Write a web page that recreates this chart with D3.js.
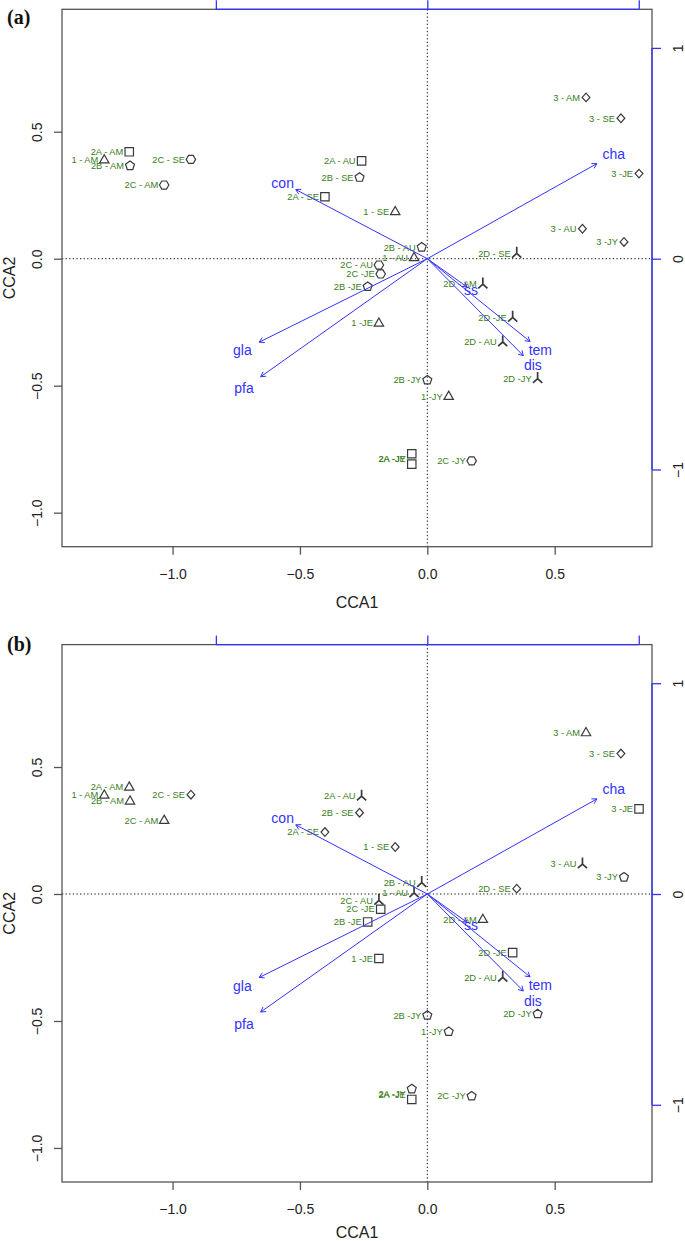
<!DOCTYPE html>
<html><head><meta charset="utf-8">
<script src="https://cdn.jsdelivr.net/npm/d3@7"></script>
<style>body{margin:0;background:#fff}</style>
</head><body>
<svg id="chart" width="685" height="1241"></svg>
<script>
// ---------- data ----------
const sites = ["2A - AM","1 - AM","2B - AM","2C - SE","2C - AM","2A - SE","2A - AU","2B - SE","1 - SE","2B - AU",
  "1 - AU","2C - AU","2C -JE","2B -JE","3 - AM","3 - SE","3 -JE","3 - AU","3 -JY","2D - SE",
  "2D - AM","1 -JE","2D -JE","2D - AU","2D -JY","2B -JY","1 -JY","2A -JY","2A -JE","2C -JY"];
const siteCCA1 = [-1.170,-1.268,-1.167,-0.928,-1.033,-0.402,-0.258,-0.266,-0.126,-0.022,
  -0.052,-0.190,-0.183,-0.234,0.623,0.760,0.831,0.609,0.772,0.351,
  0.218,-0.190,0.335,0.296,0.433,0.000,0.084,-0.061,-0.061,0.174];
const siteCCA2 = [0.421,0.389,0.366,0.391,0.290,0.244,0.385,0.320,0.185,0.045,
  0.004,-0.025,-0.060,-0.110,0.635,0.553,0.335,0.118,0.066,0.021,
  -0.100,-0.254,-0.231,-0.328,-0.472,-0.478,-0.542,-0.768,-0.809,-0.796];
const siteGroup = ["2A","1","2B","2C","2C","2A","2A","2B","1","2B",
  "1","2C","2C","2B","3","3","3","3","3","2D",
  "2D","1","2D","2D","2D","2B","1","2A","2A","2C"];
const siteSeason = ["AM","AM","AM","SE","AM","SE","AU","SE","SE","AU",
  "AU","AU","JE","JE","AM","SE","JE","AU","JY","SE",
  "AM","JE","JE","AU","JY","JY","JY","JY","JE","JY"];
const envVars = ["con","cha","gla","pfa","ss","tem","dis"];
const envCCA1 = [-0.622,0.802,-0.795,-0.788,0.188,0.486,0.454];
const envCCA2 = [0.328,0.451,-0.396,-0.560,-0.134,-0.393,-0.460];
const xTicks = [-1.0,-0.5,0.0,0.5];
const yTicks = [-1.0,-0.5,0.0,0.5];
const arrowTicks = [-1,0,1];
const panelLabels = ["(a)","(b)"];
const groupShape = {"1":"triangle","2A":"square","2B":"pentagon","2C":"hexagon","2D":"tripod","3":"diamond"};
const seasonShape = {"AM":"triangle","SE":"diamond","AU":"tripod","JE":"square","JY":"pentagon"};

// ---------- layout ----------
const svg = d3.select("#chart");
const L = 62, R = 652, T0 = 9.3, B0 = 546.7, panelOffset = 635.3;
const panelLabelDy = [14.7, 6.5];
const xTitleDy = [61, 55.5];
const arrowMul = 0.83;
const labelColor = "#3a7d22", blue = "#3333ff", frame = "#555";
const labelNudge = {"2A -JY": 5, "2A -JE": -5};
const font = "Liberation Sans, Arial, sans-serif";

function shapePath(type) {
  const poly = pts => "M" + pts.map(p => p.join(",")).join("L") + "Z";
  const reg = (n, r, a0) => d3.range(n).map(k => {
    const a = a0 + k * 2 * Math.PI / n; return [r * Math.cos(a), r * Math.sin(a)];
  });
  switch (type) {
    case "triangle": return poly([[0,-5.2],[4.7,3.0],[-4.7,3.0]]);
    case "square": return poly([[-4.2,-4.2],[4.2,-4.2],[4.2,4.2],[-4.2,4.2]]);
    case "diamond": return poly([[0,-4.3],[3.9,0],[0,4.3],[-3.9,0]]);
    case "pentagon": return poly(reg(5, 4.7, -Math.PI/2));
    case "hexagon": return poly(reg(6, 4.7, 0));
    case "tripod": return "M0,0L0,-6.5M0,0L-4.6,4.2M0,0L4.6,4.2";
  }
}

function drawPanel(idx, shapeOf) {
  const off = idx * panelOffset;
  const T = T0 + off, B = B0 + off;
  const x = d3.scaleLinear().domain([-1.434, 0.882]).range([L, R]);
  const y = d3.scaleLinear().domain([-1.134, 0.982]).range([B, T]);
  const xa = x.copy().domain(x.domain().map(d => d / arrowMul));
  const ya = y.copy().domain(y.domain().map(d => d / arrowMul));
  const g = svg.append("g");

  // zero lines
  g.append("line").attr("x1", x(0)).attr("x2", x(0)).attr("y1", T).attr("y2", B)
    .attr("stroke", "#111").attr("stroke-width", 1).attr("stroke-dasharray", "1.3,2.3");
  g.append("line").attr("x1", L).attr("x2", R).attr("y1", y(0)).attr("y2", y(0))
    .attr("stroke", "#111").attr("stroke-width", 1).attr("stroke-dasharray", "1.3,2.3");

  // frame
  g.append("rect").attr("x", L).attr("y", T).attr("width", R - L).attr("height", B - T)
    .attr("fill", "none").attr("stroke", frame).attr("stroke-width", 1.3);

  // bottom axis
  const ax = g.append("g").attr("transform", `translate(0,${B})`)
    .call(d3.axisBottom(x).tickValues(xTicks).tickFormat(d3.format(".1f")).tickSize(8).tickPadding(14));
  ax.select(".domain").remove();
  ax.selectAll("line").attr("stroke", frame).attr("stroke-width", 1.3);
  ax.selectAll("text").attr("font-family", font).attr("font-size", 14).attr("fill", "#222");

  // left axis
  const ay = g.append("g").attr("transform", `translate(${L},0)`)
    .call(d3.axisLeft(y).tickValues(yTicks).tickFormat(d3.format(".1f")).tickSize(8));
  ay.select(".domain").remove();
  ay.selectAll("line").attr("stroke", frame).attr("stroke-width", 1.3);
  ay.selectAll("text").attr("x", null).attr("dy", null)
    .attr("transform", "translate(-20,0) rotate(-90)").attr("text-anchor", "middle")
    .attr("font-family", font).attr("font-size", 14).attr("fill", "#222");

  // top (blue) axis
  const at = g.append("g").attr("transform", `translate(0,${T})`)
    .call(d3.axisTop(xa).tickValues(arrowTicks).tickFormat("").tickSize(9).tickSizeOuter(0));
  at.select(".domain").attr("d", `M${xa(-1)},0H${xa(1)}`).attr("stroke", blue).attr("stroke-width", 1.3);
  at.selectAll("line").attr("stroke", blue).attr("stroke-width", 1.3);

  // right (blue) axis
  const ar = g.append("g").attr("transform", `translate(${R},0)`)
    .call(d3.axisRight(ya).tickValues(arrowTicks).tickFormat(d3.format("d")).tickSize(9));
  ar.select(".domain").attr("d", `M0,${ya(1)}V${ya(-1)}`).attr("stroke", blue).attr("stroke-width", 1.3);
  ar.selectAll("line").attr("stroke", blue).attr("stroke-width", 1.3);
  ar.selectAll("text").attr("x", null).attr("dy", null)
    .attr("transform", "translate(31,0) rotate(-90)").attr("text-anchor", "middle")
    .attr("font-family", font).attr("font-size", 14).attr("fill", "#222");

  // axis titles
  g.append("text").attr("x", (L + R) / 2).attr("y", B + xTitleDy[idx]).attr("text-anchor", "middle")
    .attr("font-family", font).attr("font-size", 16).attr("fill", "#222").text("CCA1");
  g.append("text").attr("transform", `translate(15,${(T + B) / 2}) rotate(-90)`).attr("text-anchor", "middle")
    .attr("font-family", font).attr("font-size", 16).attr("fill", "#222").text("CCA2");

  // panel label
  g.append("text").attr("x", 7).attr("y", T + panelLabelDy[idx]).attr("font-family", "Liberation Serif, Times New Roman, serif")
    .attr("font-weight", "bold").attr("font-size", 20).attr("fill", "#111").text(panelLabels[idx]);

  // sites
  const idxs = d3.range(sites.length);
  g.append("g").selectAll("path").data(idxs).join("path")
    .attr("transform", i => `translate(${x(siteCCA1[i])},${y(siteCCA2[i])})`)
    .attr("d", i => shapePath(shapeOf(i)))
    .attr("fill", "none").attr("stroke", "#3a3a3a")
    .attr("stroke-width", i => shapeOf(i) === "tripod" ? 1.7 : 1.2);
  g.append("g").selectAll("text").data(idxs).join("text")
    .attr("x", i => x(siteCCA1[i]) - 6)
    .attr("y", i => y(siteCCA2[i]) + (labelNudge[sites[i]] || 0))
    .attr("dy", "0.35em").attr("text-anchor", "end")
    .attr("font-family", font).attr("font-size", 9.3)
    .attr("fill", labelColor).text(i => sites[i]);

  // environmental arrows
  const ox = xa(0), oy = ya(0);
  envVars.forEach((v, i) => {
    const tx = xa(envCCA1[i]), ty = ya(envCCA2[i]);
    const ang = Math.atan2(ty - oy, tx - ox), hl = 5.5, ha = Math.PI / 6;
    g.append("line").attr("x1", ox).attr("y1", oy).attr("x2", tx).attr("y2", ty)
      .attr("stroke", blue).attr("stroke-width", 1);
    g.append("path")
      .attr("d", `M${tx - hl * Math.cos(ang - ha)},${ty - hl * Math.sin(ang - ha)}L${tx},${ty}L${tx - hl * Math.cos(ang + ha)},${ty - hl * Math.sin(ang + ha)}`)
      .attr("fill", "none").attr("stroke", blue).attr("stroke-width", 1);
    g.append("text").attr("x", xa(envCCA1[i] * 1.1)).attr("y", ya(envCCA2[i] * 1.1))
      .attr("dy", "0.35em").attr("text-anchor", "middle")
      .attr("font-family", font).attr("font-size", 14)
      .attr("fill", blue).text(v);
  });
}

drawPanel(0, i => groupShape[siteGroup[i]]);
drawPanel(1, i => seasonShape[siteSeason[i]]);
</script>
</body></html>
